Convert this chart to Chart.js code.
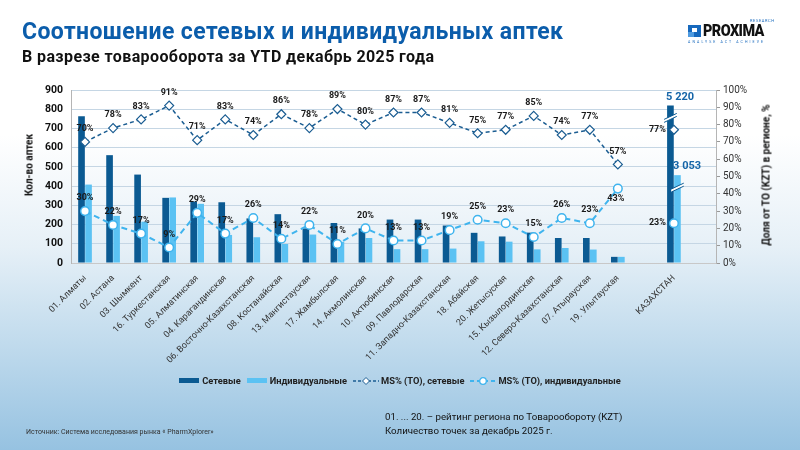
<!DOCTYPE html>
<html>
<head>
<meta charset="UTF-8" />
<title>Соотношение сетевых и индивидуальных аптек</title>
<script src="https://cdn.jsdelivr.net/npm/chart.js"></script>
<style>
html, body { margin:0; padding:0; }
body {
  width:800px; height:450px; overflow:hidden; position:relative;
  font-family:Roboto, "Noto Sans", sans-serif;
  background:linear-gradient(to bottom, #ffffff 0%, #ffffff 30%, #e6f0f7 55%, #bad7eb 80%, #96c2e1 100%);
}
#chart { position:absolute; left:0; top:0; }
.title { position:absolute; left:22px; top:18px; font-size:23px; font-weight:700; color:#0b5dab; letter-spacing:0.4px; white-space:nowrap; }
.subtitle { position:absolute; left:22px; top:47px; font-size:16px; font-weight:700; color:#111; letter-spacing:0.4px; white-space:nowrap; }
.ytitle { position:absolute; font-size:10px; font-weight:700; color:#111; white-space:nowrap; transform:translate(-50%,-50%) rotate(-90deg); }
.legend { position:absolute; left:0; top:375px; width:800px; display:flex; justify-content:center; align-items:center; font-size:9.3px; font-weight:700; color:#222; }
.legend .item { display:flex; align-items:center; margin:0 3px; }
.legend .box { width:20px; height:5px; margin-right:3px; }
.legend svg { margin-right:2px; }
.source { position:absolute; left:26px; top:428px; font-size:7px; color:#333; }
.notes { position:absolute; left:385px; top:410px; font-size:9.7px; color:#111; line-height:14px; }
.logo { position:absolute; left:688px; top:18px; width:92px; height:30px; }
.logo .sq { position:absolute; left:0; top:7px; width:13px; height:12px; background:#1769bd; }
.logo .sq i { position:absolute; left:4px; top:3px; width:5px; height:4px; background:#fff; }
.logo .sq b { position:absolute; left:0; top:7px; width:6px; height:5px; background:#4f9be0; }
.logo .name { position:absolute; left:15px; top:3px; font-size:16px; font-weight:900; color:#111; letter-spacing:-0.6px; transform:scaleX(0.9); transform-origin:left; }
.logo .res { position:absolute; left:62px; top:0px; font-size:4px; color:#1769bd; letter-spacing:0.6px; }
.logo .tag { position:absolute; left:0; top:22px; font-size:3.5px; color:#1769bd; letter-spacing:2.1px; white-space:nowrap; }
</style>
</head>
<body>
<canvas id="chart" width="800" height="450"></canvas>

<div class="title">Соотношение сетевых и индивидуальных аптек</div>
<div class="subtitle">В разрезе товарооборота за YTD декабрь 2025 года</div>

<div class="logo">
  <div class="sq"><b></b><i></i></div>
  <div class="res">RESEARCH</div>
  <div class="name">PROXIMA</div>
  <div class="tag">ANALYSE ACT ACHIEVE</div>
</div>

<div class="ytitle" style="left:29px; top:165px;">Кол-во аптек</div>
<div class="ytitle" style="left:766px; top:175px;">Доля от ТО (KZT) в регионе, %</div>

<div class="legend">
  <div class="item"><span class="box" style="background:#0b5a92"></span>Сетевые</div>
  <div class="item"><span class="box" style="background:#5bc2f3"></span>Индивидуальные</div>
  <div class="item">
    <svg width="26" height="10"><line x1="0" y1="5" x2="26" y2="5" stroke="#1b5d92" stroke-width="1.5" stroke-dasharray="3,2"/><polygon points="13,1.5 16.5,5 13,8.5 9.5,5" fill="#fff" stroke="#1b5d92" stroke-width="1"/></svg>
    MS% (TO), сетевые</div>
  <div class="item">
    <svg width="26" height="10"><line x1="0" y1="5" x2="26" y2="5" stroke="#3fb4ee" stroke-width="2" stroke-dasharray="4,3"/><circle cx="13" cy="5" r="3.3" fill="#fff" stroke="#3fb4ee" stroke-width="1.3"/></svg>
    MS% (TO), индивидуальные</div>
</div>

<div class="source">Источник: Система исследования рынка « PharmXplorer»</div>
<div class="notes">01. ... 20. – рейтинг региона по Товарообороту (KZT)<br>Количество точек за декабрь 2025 г.</div>

<script>
// regions, then an empty slot, the country total, and another empty slot
const regions = [
  '01. Алматы', '02. Астана', '03. Шымкент', '16. Туркестанская', '05. Алматинская',
  '04. Карагандинская', '06. Восточно-Казахстанская', '08. Костанайская', '13. Мангистауская',
  '17. Жамбылская', '14. Акмолинская', '10. Актюбинская', '09. Павлодарская',
  '11. Западно-Казахстанская', '18. Абайская', '20. Жетысуская', '15. Кызылординская',
  '12. Северо-Казахстанская', '07. Атырауская', '19. Улытауская', '', 'КАЗАХСТАН', ''
];
const kzIndex = 21;

// number of pharmacies (КАЗАХСТАН is shown with an axis break)
const networkCounts = [763, 561, 460, 339, 320, 316, 232, 254, 180, 208, 180, 226, 226, 195, 157, 138, 158, 130, 130, 32, null, 5220, null];
const individualCounts = [408, 245, 215, 341, 308, 146, 134, 99, 148, 110, 130, 72, 72, 75, 113, 111, 71, 78, 70, 32, null, 3053, null];
const kzShownHeights = [820, 457];
const kzTotalLabels = ['5 220', '3 053'];

// share of turnover, %
const msNetwork = [70, 78, 83, 91, 71, 83, 74, 86, 78, 89, 80, 87, 87, 81, 75, 77, 85, 74, 77, 57, null, 77, null];
const msIndividual = [30, 22, 17, 9, 29, 17, 26, 14, 22, 11, 20, 13, 13, 19, 25, 23, 15, 26, 23, 43, null, 23, null];

const leftTicks = [0, 100, 200, 300, 400, 500, 600, 700, 800, 900];

const DARK = '#0b5a92', LIGHT = '#5bc2f3', DARK_LINE = '#1b5d92', LIGHT_LINE = '#3fb4ee';

const barNet = networkCounts.map((v, i) => i === kzIndex ? kzShownHeights[0] : v);
const barInd = individualCounts.map((v, i) => i === kzIndex ? kzShownHeights[1] : v);

const overlay = {
  id: 'overlay',
  afterDatasetsDraw(chart) {
    const ctx = chart.ctx;
    ctx.save();

    // axis break marks on the total bars
    [0, 1].forEach(d => {
      const bar = chart.getDatasetMeta(d).data[kzIndex];
      const x0 = bar.x - bar.width / 2 - 3, x1 = bar.x + bar.width / 2 + 3;
      const y = bar.y + 12;
      ctx.fillStyle = '#ffffff';
      ctx.beginPath();
      ctx.moveTo(x0, y + 2); ctx.lineTo(x1, y - 4); ctx.lineTo(x1, y - 1); ctx.lineTo(x0, y + 5);
      ctx.closePath(); ctx.fill();
      ctx.strokeStyle = DARK; ctx.lineWidth = 1;
      ctx.beginPath();
      ctx.moveTo(x0, y + 2); ctx.lineTo(x1, y - 4);
      ctx.moveTo(x0, y + 5); ctx.lineTo(x1, y - 1);
      ctx.stroke();
    });

    // totals above the country bars
    ctx.font = 'bold 11px Roboto';
    ctx.fillStyle = '#1565a8';
    ctx.textAlign = 'left';
    ctx.textBaseline = 'bottom';
    [0, 1].forEach(d => {
      const bar = chart.getDatasetMeta(d).data[kzIndex];
      ctx.fillText(kzTotalLabels[d], bar.x - bar.width / 2 - 1, bar.y - 3);
    });

    // percentage labels
    ctx.font = 'bold 9px Roboto';
    ctx.fillStyle = '#1a1a1a';
    [2, 3].forEach(d => {
      const meta = chart.getDatasetMeta(d);
      const vals = chart.data.datasets[d].data;
      meta.data.forEach((pt, i) => {
        if (vals[i] == null) return;
        ctx.textBaseline = 'middle';
        if (i === kzIndex) {
          ctx.textAlign = 'right';
          ctx.fillText(vals[i] + '%', pt.x - 8, pt.y);
        } else if (d === 3 && i === 19) {
          // last region: label sits under the point to stay clear of the other line
          ctx.textAlign = 'center';
          ctx.fillText(vals[i] + '%', pt.x - 2, pt.y + 10);
        } else {
          ctx.textAlign = 'center';
          ctx.fillText(vals[i] + '%', pt.x, pt.y - 13);
        }
      });
    });
    ctx.restore();
  }
};

new Chart(document.getElementById('chart'), {
  type: 'bar',
  data: {
    labels: regions,
    datasets: [
      { label: 'Сетевые', data: barNet, backgroundColor: DARK, yAxisID: 'y', order: 2,
        categoryPercentage: 0.5, barPercentage: 0.95 },
      { label: 'Индивидуальные', data: barInd, backgroundColor: LIGHT, yAxisID: 'y', order: 2,
        categoryPercentage: 0.5, barPercentage: 0.95 },
      { type: 'line', label: 'MS% (TO), сетевые', data: msNetwork, yAxisID: 'y1', order: 1,
        borderColor: DARK_LINE, borderWidth: 1.5, borderDash: [4, 3], spanGaps: false,
        pointStyle: 'rectRot', pointRadius: 4.5, pointBorderWidth: 1.2,
        pointBackgroundColor: '#fff', pointBorderColor: DARK_LINE, tension: 0 },
      { type: 'line', label: 'MS% (TO), индивидуальные', data: msIndividual, yAxisID: 'y1', order: 0,
        borderColor: LIGHT_LINE, borderWidth: 2, borderDash: [6, 4], spanGaps: false,
        pointStyle: 'circle', pointRadius: 4.3, pointBorderWidth: 1.5,
        pointBackgroundColor: '#fff', pointBorderColor: LIGHT_LINE, tension: 0 }
    ]
  },
  options: {
    responsive: false,
    animation: false,
    layout: { padding: { top: 90, left: 0, right: 0, bottom: 0 } },
    plugins: { legend: { display: false }, tooltip: { enabled: false } },
    scales: {
      x: {
        grid: { display: false },
        border: { display: true, color: '#c8c8c8' },
        ticks: { autoSkip: false, minRotation: 45, maxRotation: 45, padding: 2,
          font: { family: 'Roboto', size: 9 }, color: '#333' },
        afterFit(s) { s.height = 187; }
      },
      y: {
        position: 'left', min: 0, max: 900,
        afterBuildTicks(s) { s.ticks = leftTicks.map(v => ({ value: v })); },
        grid: { color: '#c5d6e4', borderDash: [2, 2], drawTicks: false, lineWidth: 1 },
        border: { display: true, color: '#b5b5b5', dash: [] },
        ticks: { padding: 8, font: { family: 'Roboto', size: 10.5, weight: 'bold' }, color: '#111' },
        afterFit(s) { s.width = 71; }
      },
      y1: {
        position: 'right', min: 0, max: 100,
        grid: { drawOnChartArea: false, tickLength: 4, color: '#999' },
        border: { display: true, color: '#b5b5b5' },
        ticks: { stepSize: 10, padding: 3, callback: v => v + '%',
          font: { family: 'Roboto', size: 10 }, color: '#333' },
        afterFit(s) { s.width = 84; }
      }
    }
  },
  plugins: [overlay]
});
</script>
</body>
</html>
